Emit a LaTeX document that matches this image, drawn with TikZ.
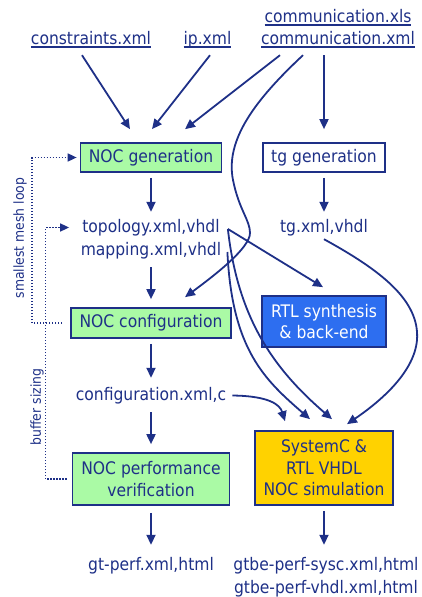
\documentclass[tikz,border=0pt]{standalone}
\usepackage{fontspec}
\IfFontExistsTF{DejaVu Sans Condensed}{\setmainfont{DejaVu Sans Condensed}}{\setmainfont{DejaVu Sans}}
\usetikzlibrary{arrows.meta}
\definecolor{navy}{RGB}{30,48,135}
\definecolor{nocgreen}{RGB}{170,250,165}
\definecolor{rtlblue}{RGB}{45,110,240}
\definecolor{simgold}{RGB}{255,210,0}
\newcommand\fileul[1]{\setbox0=\hbox{#1}\rlap{\rule[-3.6pt]{\wd0}{1.3pt}}\box0}
\begin{document}
\begin{tikzpicture}[x=1pt, y=1pt,
            file/.style={text=navy, font=\fontsize{17.3}{21}\selectfont, inner sep=0pt, text height=13pt, text depth=4pt, anchor=base},
            box/.style={draw=navy, line width=1.7pt, text=navy, font=\fontsize{17.3}{21.5}\selectfont, align=center, inner sep=0pt},
            arr/.style={draw=navy, line width=1.8pt, -{Triangle[length=10pt,width=9pt]}},
            feedback/.style={draw=navy, line width=1.6pt, dash pattern=on 1.5pt off 1.5pt, -{Triangle[length=9pt,width=8pt]}},
            looplabel/.style={text=navy, font=\fontsize{13.8}{16}\selectfont, rotate=90, inner sep=0pt}
            ]
            \useasboundingbox (0,0) rectangle (422,-597);
            \node[file] (cons) at (91,-44) {\fileul{constraints.xml}};
            \node[file] (ip) at (207.5,-44) {\fileul{ip.xml}};
            \node[file] (comx) at (338,-22) {\fileul{communication.xls}};
            \node[file] (comm) at (338,-44) {\fileul{communication.xml}};
            \node[box, fill=nocgreen, minimum width=141pt, minimum height=29pt] (gen) at (151,-157.5) {NOC generation};
            \node[box, fill=white, minimum width=122pt, minimum height=29pt] (tg) at (324,-157.5) {tg generation};
            \node[file] (topo) at (151,-232) {topology.xml,vhdl};
            \node[file] (map) at (151,-255) {mapping.xml,vhdl};
            \node[file] (tgx) at (324,-232) {tg.xml,vhdl};
            \node[box, fill=nocgreen, minimum width=160pt, minimum height=30pt] (conf) at (151,-323) {NOC configuration};
            \node[box, fill=rtlblue, text=white, minimum width=124pt, minimum height=51pt] (rtl) at (324,-321.5) {RTL synthesis\\\& back-end};
            \node[file] (confx) at (151,-400) {configuration.xml,c};
            \node[box, fill=nocgreen, minimum width=157pt, minimum height=52pt] (perf) at (151,-479) {NOC performance\\verification};
            \node[box, fill=simgold, minimum width=138pt, minimum height=74pt] (sim) at (324,-468) {SystemC \&\\RTL VHDL\\NOC simulation};
            \node[file] (gtp) at (151,-570) {gt-perf.xml,html};
            \node[file] (gts) at (326,-570) {gtbe-perf-sysc.xml,html};
            \node[file] (gtv) at (326,-593) {gtbe-perf-vhdl.xml,html};
            \node[looplabel] (mesh) at (20,-238) {smallest mesh loop};
            \node[looplabel] (buf) at (37,-407) {buffer sizing};
            \coordinate (tp) at ([shift={(8,-1.5)}]topo.east);
            \draw[arr] ([shift={(-9,-7)}]cons.south) -- ([shift={(-21,13)}]gen.north);
            \draw[arr] ([shift={(2.5,-7)}]ip.south) -- ([shift={(1,13)}]gen.north);
            \draw[arr] ([shift={(-58,-7)}]comm.south) -- ([shift={(34,13)}]gen.north);
            \draw[arr] ([shift={(-35,-7)}]comm.south) .. controls (255,-100) and (225,-140) .. (233,-180)
              .. controls (239,-210) and (250,-220) .. (250,-233)
              .. controls (250,-248) and (215,-275) .. ([shift={(34,10)}]conf.north);
            \draw[arr] ([shift={(-14,-7)}]comm.south) -- ([yshift=13pt]tg.north);
            \draw[arr] ([yshift=-5pt]gen.south) -- ([yshift=7pt]topo.north);
            \draw[arr] ([yshift=-5pt]tg.south) -- ([yshift=7pt]tgx.north);
            \draw[arr] ([yshift=-8pt]map.south) -- ([yshift=8pt]conf.north);
            \draw[arr] (tp) -- ([shift={(-1,8)}]rtl.north);
            \draw[arr] (tp) .. controls (238,-320) and (275,-370) .. ([shift={(8,11)}]sim.north);
            \draw[arr] ([shift={(6,-1.5)}]map.east) .. controls (232,-350) and (265,-380) .. ([shift={(-14,11)}]sim.north);
            \draw[arr] ([yshift=-5pt]conf.south) -- ([yshift=9pt]confx.north);
            \draw[arr] ([yshift=-8pt]confx.south) -- ([yshift=8pt]perf.north);
            \draw[arr] ([xshift=6pt]confx.east) .. controls (270,-396) and (280,-405) .. ([shift={(-39,9)}]sim.north);
            \draw[arr] ([yshift=-3pt]tgx.south) .. controls (380,-270) and (420,-300) .. (417,-340)
              .. controls (414,-375) and (375,-405) .. ([shift={(23,6)}]sim.north);
            \draw[arr] ([yshift=-7pt]perf.south) -- ([yshift=12pt]gtp.north);
            \draw[arr] ([yshift=-5pt]sim.south) -- ([shift={(-2,12)}]gts.north);
            \draw[feedback] ([xshift=-8pt]conf.west) -- ++(-30,0) |- ([xshift=-3pt]gen.west);
            \draw[feedback] ([xshift=-5pt]perf.west) -- ++(-21,0) |- ([xshift=-13pt]topo.west);
\end{tikzpicture}
\end{document}
